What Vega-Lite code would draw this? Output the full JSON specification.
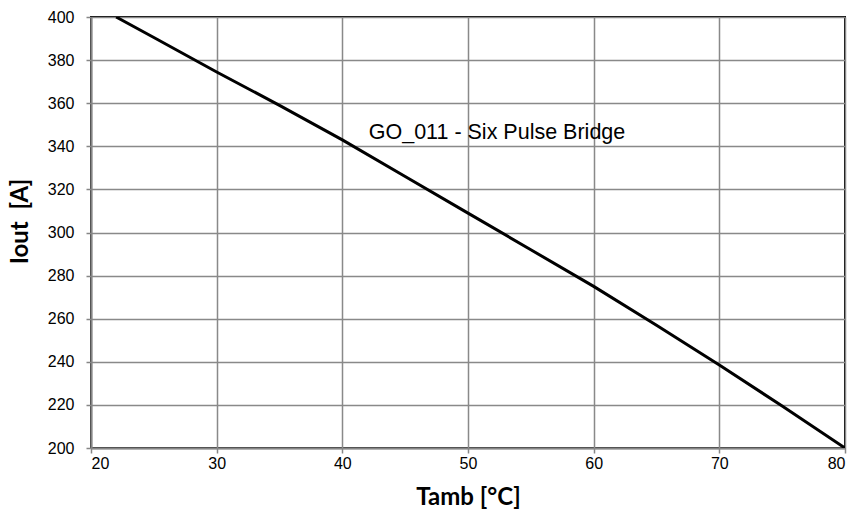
{
  "$schema": "https://vega.github.io/schema/vega-lite/v6.json",
  "width": 754,
  "height": 431,
  "autosize": "none",
  "padding": {"left": 91, "top": 17, "right": 12, "bottom": 74},
  "background": "white",
  "config": {
    "view": {"stroke": "black", "strokeWidth": 2},
    "axis": {
      "domainColor": "#868686",
      "domainWidth": 2,
      "gridColor": "#898989",
      "gridWidth": 1.5,
      "tickColor": "#868686",
      "tickWidth": 1.5,
      "tickSize": 5,
      "labelFont": "Liberation Sans",
      "labelFontSize": 16,
      "labelColor": "black",
      "titleFont": "Lato",
      "titleFontSize": 24,
      "titleFontWeight": "bold",
      "titleColor": "black"
    }
  },
  "datasets": {
    "curve": [
      {"Tamb": 22, "Iout": 400},
      {"Tamb": 25, "Iout": 390.5},
      {"Tamb": 30, "Iout": 374.5},
      {"Tamb": 35, "Iout": 359},
      {"Tamb": 40, "Iout": 343},
      {"Tamb": 45, "Iout": 326},
      {"Tamb": 50, "Iout": 309},
      {"Tamb": 55, "Iout": 292},
      {"Tamb": 60, "Iout": 275},
      {"Tamb": 65, "Iout": 257},
      {"Tamb": 70, "Iout": 238.5},
      {"Tamb": 75, "Iout": 219.5},
      {"Tamb": 80, "Iout": 200}
    ],
    "label": [
      {"Tamb": 42.1, "Iout": 346.2, "text": "GO_011 - Six Pulse Bridge"}
    ]
  },
  "layer": [
    {
      "data": {"name": "curve"},
      "mark": {"type": "line", "color": "black", "strokeWidth": 3, "clip": true},
      "encoding": {
        "x": {
          "field": "Tamb", "type": "quantitative",
          "scale": {"domain": [20, 80], "nice": false, "zero": false},
          "axis": {"values": [20, 30, 40, 50, 60, 70, 80], "title": "Tamb [°C]", "labelPadding": 2, "titlePadding": 14, "zindex": 0}
        },
        "y": {
          "field": "Iout", "type": "quantitative",
          "scale": {"domain": [200, 400], "nice": false, "zero": false},
          "axis": {"values": [200, 220, 240, 260, 280, 300, 320, 340, 360, 380, 400], "title": "Iout\u00a0\u00a0[A]", "labelPadding": 12, "titlePadding": 15, "titleY": 204, "zindex": 0}
        }
      }
    },
    {
      "data": {"name": "label"},
      "mark": {"type": "text", "align": "left", "baseline": "middle", "font": "Liberation Sans", "fontSize": 21.5, "color": "black"},
      "encoding": {
        "x": {"field": "Tamb", "type": "quantitative"},
        "y": {"field": "Iout", "type": "quantitative"},
        "text": {"field": "text"}
      }
    }
  ]
}
